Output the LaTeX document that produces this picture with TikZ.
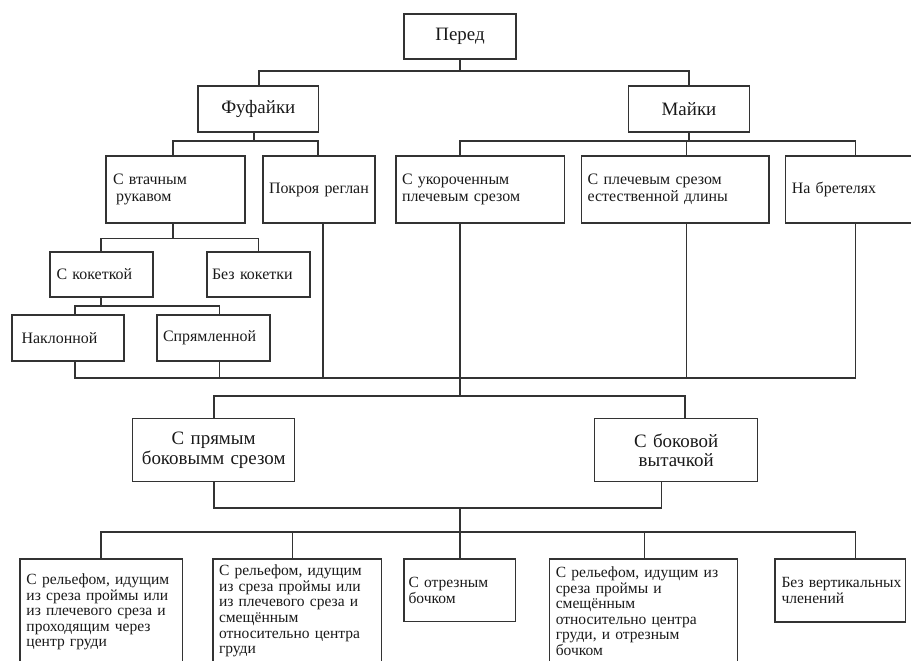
\documentclass[tikz,border=0pt]{standalone}
\usepackage{fontspec}
\setmainfont{Liberation Serif}
\begin{document}
\begin{tikzpicture}[x=1bp,y=-1bp,
  box/.style={draw=black!80, line width=1.3bp, rectangle, inner ysep=0pt, align=left, text=black!90, font=\fontsize{16}{16.7}\selectfont},
  big/.style={box, align=center, inner xsep=6bp, font=\fontsize{19}{19.4}\selectfont},
  low/.style={box, font=\fontsize{15.6}{15.6}\selectfont},
  conn/.style={draw=black!80, line width=1.3bp}]
\useasboundingbox (0,0) rectangle (911,661);
\clip (0,0) rectangle (911,661);
% ---- nodes
\node[big, minimum width=112bp, minimum height=45bp, text width=100bp] (pered) at (460,36.5) {Перед};
\node[big, minimum width=120.6bp, minimum height=46bp, text width=108.6bp] (fuf) at (258.3,109) {Фуфайки};
\node[big, minimum width=121bp, minimum height=46bp, text width=109bp] (mayki) at (689,109) {Майки};
\node[box, minimum width=139bp, minimum height=67bp, inner xsep=7bp, text width=125bp] (vtach) at (175.5,189.5) {С втачным\\\hspace*{3bp}рукавом};
\node[box, minimum width=112bp, minimum height=67bp, inner xsep=6bp, text width=100bp] (raglan) at (319,189.5) {\mbox{Покроя реглан}};
\node[box, minimum width=168.7bp, minimum height=67bp, inner xsep=6bp, text width=156.7bp] (ukor) at (480.35,189.5) {С укороченным\\плечевым срезом};
\node[box, minimum width=187.3bp, minimum height=67bp, inner xsep=6bp, text width=175.3bp] (plech) at (675.35,189.5) {С плечевым срезом\\естественной длины};
\node[box, minimum width=144.2bp, minimum height=67bp, inner xsep=6bp, text width=132.2bp] (bret) at (857.9,189.5) {На бретелях};
\node[box, minimum width=103bp, minimum height=45bp, inner xsep=6.5bp, text width=90bp] (kok) at (101.5,274.5) {\mbox{С кокеткой}};
\node[box, minimum width=103bp, minimum height=45bp, inner xsep=5bp, text width=93bp] (bezkok) at (258.5,274.5) {\mbox{Без кокетки}};
\node[box, minimum width=112bp, minimum height=46bp, inner xsep=9.5bp, text width=93bp] (nakl) at (68,338) {Наклонной};
\node[box, minimum width=113bp, minimum height=46bp, inner xsep=6bp, text width=101bp] (spryam) at (213.5,338) {Спрямленной};
\node[big, minimum width=162.2bp, minimum height=63bp, text width=150.2bp] (pryam) at (213.7,450.2) {С прямым\\боковымм срезом};
\node[big, minimum width=162.8bp, minimum height=63bp, text width=150.8bp] (bok) at (676.2,450.2) {С боковой\\вытачкой};
\node[low, minimum width=162.7bp, minimum height=106bp, inner xsep=6.5bp, text width=149.7bp] (b1) at (101.35,612) {\mbox{С рельефом, идущим}\\\mbox{из среза проймы или}\\\mbox{из плечевого среза и}\\\mbox{проходящим через}\\центр груди};
\node[low, minimum width=168.7bp, minimum height=104bp, inner xsep=6bp, text width=156.7bp] (b2) at (297.35,611) {\mbox{С рельефом, идущим}\\\mbox{из среза проймы или}\\\mbox{из плечевого среза и}\\смещённым\\\mbox{относительно центра}\\груди};
\node[low, minimum width=111.7bp, minimum height=62.7bp, inner xsep=4.5bp, text width=102.7bp] (b3) at (459.85,590.35) {С отрезным\\бочком};
\node[low, minimum width=188bp, minimum height=104bp, inner xsep=6.5bp, text width=175bp] (b4) at (643.3,611) {\mbox{С рельефом, идущим из}\\\mbox{среза проймы и}\\смещённым\\\mbox{относительно центра}\\\mbox{груди, и отрезным}\\бочком};
\node[low, minimum width=130.7bp, minimum height=63bp, inner xsep=6.5bp, text width=117.7bp] (b5) at (840.35,590.5) {\mbox{Без вертикальных}\\членений};
% ---- helper coordinates
\coordinate (yA) at (0,71);
\coordinate (yB) at (0,141);
\coordinate (yC) at (0,238.7);
\coordinate (yD) at (0,306);
\coordinate (yE) at (0,378);
\coordinate (yF) at (0,396);
\coordinate (yG) at (0,508);
\coordinate (yH) at (0,532);
\coordinate (x75) at (75,0);
\coordinate (x101) at (101,0);
\coordinate (x173) at (173,0);
\coordinate (x214) at (214,0);
\coordinate (x219) at (219.5,0);
\coordinate (x254) at (254,0);
\coordinate (x258) at (258.3,0);
\coordinate (x259) at (259,0);
\coordinate (x293) at (292.7,0);
\coordinate (x318) at (318,0);
\coordinate (x323) at (323,0);
\coordinate (x460) at (460,0);
\coordinate (x644) at (644.3,0);
\coordinate (x662) at (661.6,0);
\coordinate (x685) at (685,0);
\coordinate (x687) at (686.8,0);
\coordinate (x689) at (689,0);
\coordinate (x856) at (855.6,0);
% ---- connectors
\draw[conn] (pered.south) -- (pered.south |- yA);
\draw[conn] (fuf.north -| x259) -- (x259 |- yA) -- (x689 |- yA) -- (mayki.north -| x689);
\draw[conn] (fuf.south -| x254) -- (x254 |- yB);
\draw[conn] (vtach.north -| x173) -- (x173 |- yB) -- (x318 |- yB) -- (raglan.north -| x318);
\draw[conn] (mayki.south -| x689) -- (x689 |- yB);
\draw[conn] (ukor.north -| x460) -- (x460 |- yB) -- (x856 |- yB) -- (bret.north -| x856);
\draw[conn] (plech.north -| x687) -- (x687 |- yB);
\draw[conn] (vtach.south -| x173) -- (x173 |- yC);
\draw[conn] (kok.north -| x101) -- (x101 |- yC) -- (x258 |- yC) -- (bezkok.north -| x258);
\draw[conn] (kok.south -| x101) -- (x101 |- yD);
\draw[conn] (nakl.north -| x75) -- (x75 |- yD) -- (x219 |- yD) -- (spryam.north -| x219);
\draw[conn] (nakl.south -| x75) -- (x75 |- yE) -- (x856 |- yE) -- (bret.south -| x856);
\draw[conn] (spryam.south -| x219) -- (x219 |- yE);
\draw[conn] (raglan.south -| x323) -- (x323 |- yE);
\draw[conn] (plech.south -| x687) -- (x687 |- yE);
\draw[conn] (ukor.south -| x460) -- (x460 |- yF);
\draw[conn] (pryam.north -| x214) -- (x214 |- yF) -- (x685 |- yF) -- (bok.north -| x685);
\draw[conn] (pryam.south -| x214) -- (x214 |- yG) -- (x662 |- yG) -- (bok.south -| x662);
\draw[conn] (x460 |- yG) -- (b3.north -| x460);
\draw[conn] (b1.north -| x101) -- (x101 |- yH) -- (x856 |- yH) -- (b5.north -| x856);
\draw[conn] (b2.north -| x293) -- (x293 |- yH);
\draw[conn] (b4.north -| x644) -- (x644 |- yH);
\end{tikzpicture}
\end{document}
